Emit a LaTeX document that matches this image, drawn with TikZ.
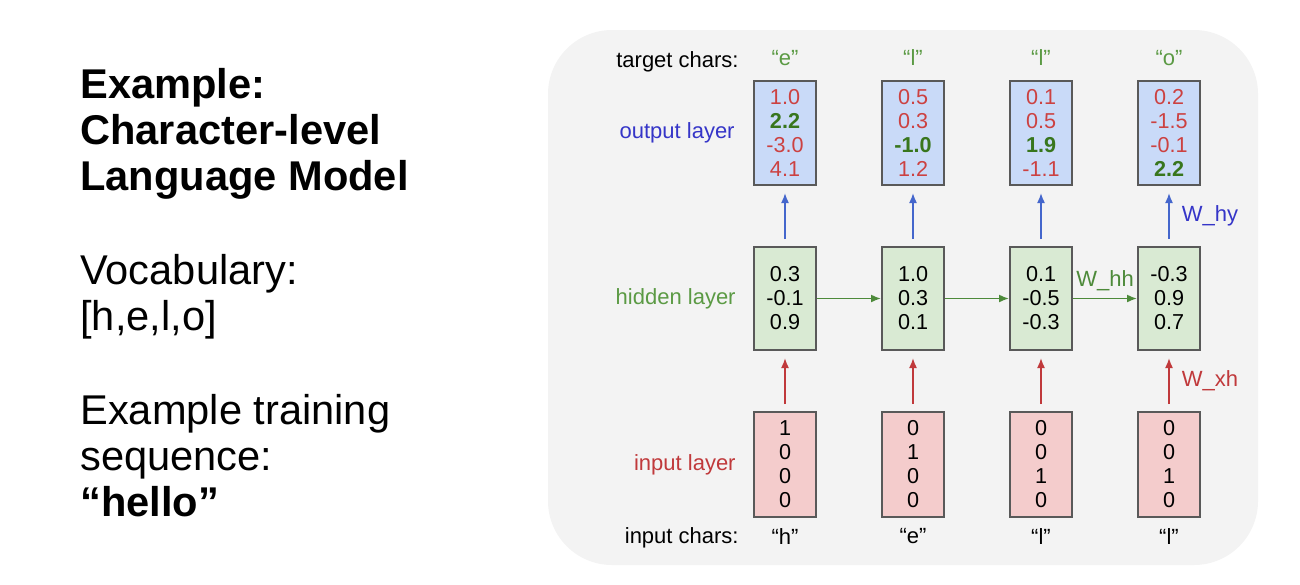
\documentclass[tikz,border=0pt]{standalone}
\usepackage{fontspec}
\setmainfont{Liberation Sans}
\usetikzlibrary{arrows.meta,positioning}

\definecolor{panelgray}{HTML}{F3F3F3}
\definecolor{boxline}{HTML}{595959}
\definecolor{outblue}{HTML}{C9DAF8}
\definecolor{hidgreen}{HTML}{D9EAD3}
\definecolor{inred}{HTML}{F4CCCC}
\definecolor{numred}{HTML}{CC4141}
\definecolor{numgreen}{HTML}{38761D}
\definecolor{chargreen}{HTML}{5B9A44}
\definecolor{lblblue}{HTML}{3535C8}
\definecolor{arrblue}{HTML}{4466CC}
\definecolor{arrred}{HTML}{C0393B}
\definecolor{arrgreen}{HTML}{4D8A3A}

\newcommand{\redval}[1]{\textcolor{numred}{#1}}
\newcommand{\greenval}[1]{\textcolor{numgreen}{\textbf{#1}}}

\tikzset{
  cell/.style={draw=boxline, line width=1pt, minimum width=31pt, inner sep=0pt,
    align=center, font=\fontsize{10.8}{12}\selectfont},
  outcell/.style={cell, fill=outblue, minimum height=52pt},
  hidcell/.style={cell, fill=hidgreen, minimum height=51.5pt},
  incell/.style={cell, fill=inred, minimum height=52.5pt},
  lbl/.style={font=\fontsize{11}{13}\selectfont, inner sep=0pt},
  bigtext/.style={font=\fontsize{20.8}{23}\selectfont, inner sep=0pt, align=left, anchor=base west},
  vert/.style={-{Latex[length=5pt,width=4pt]}, line width=0.8pt, shorten <=3.5pt, shorten >=3.5pt},
  horiz/.style={-{Latex[length=5pt,width=4pt]}, line width=0.8pt, draw=arrgreen},
}

\begin{document}
\begin{tikzpicture}[x=0.5pt,y=-0.5pt]
\useasboundingbox (0,0) rectangle (1300,584);

% left side text (anchored at the last line)
\node (T-1) at (80,190) [bigtext]{\textbf{Example:}\\\textbf{Character-level}\\\textbf{Language Model}};
\node (T-2) at (80,330) [bigtext]{Vocabulary:\\{}[h,e,l,o]};
\node (T-3) at (80,516) [bigtext]{Example training\\sequence:\\\textbf{“hello”}};

% gray panel
\fill [panelgray, rounded corners=32pt] (548,30) rectangle (1258,565);

% output layer
\node (O-1) at (785,133) [outcell]{\redval{1.0}\\\greenval{2.2}\\\redval{-3.0}\\\redval{4.1}};
\node (O-2) at (913,133) [outcell]{\redval{0.5}\\\redval{0.3}\\\greenval{-1.0}\\\redval{1.2}};
\node (O-3) at (1041,133) [outcell]{\redval{0.1}\\\redval{0.5}\\\greenval{1.9}\\\redval{-1.1}};
\node (O-4) at (1169,133) [outcell]{\redval{0.2}\\\redval{-1.5}\\\redval{-0.1}\\\greenval{2.2}};

% hidden layer
\node (H-1) at (785,298.5) [hidcell]{0.3\\-0.1\\0.9};
\node (H-2) at (913,298.5) [hidcell]{1.0\\0.3\\0.1};
\node (H-3) at (1041,298.5) [hidcell]{0.1\\-0.5\\-0.3};
\node (H-4) at (1169,298.5) [hidcell]{-0.3\\0.9\\0.7};

% input layer
\node (I-1) at (785,464.5) [incell]{1\\0\\0\\0};
\node (I-2) at (913,464.5) [incell]{0\\1\\0\\0};
\node (I-3) at (1041,464.5) [incell]{0\\0\\1\\0};
\node (I-4) at (1169,464.5) [incell]{0\\0\\1\\0};

% row labels
\node [lbl, text=lblblue, anchor=east, left=9pt of O-1]{output layer};
\node [lbl, text=chargreen, anchor=east, left=8.5pt of H-1]{hidden layer};
\node [lbl, text=arrred, anchor=east, left=8.5pt of I-1]{input layer};

\node at (739,67) [lbl, anchor=base east]{target chars:};
\node [lbl, text=chargreen, above=7pt of O-1]{“e”};
\node [lbl, text=chargreen, above=7pt of O-2]{“l”};
\node [lbl, text=chargreen, above=7pt of O-3]{“l”};
\node [lbl, text=chargreen, above=7pt of O-4]{“o”};

\node at (739,543) [lbl, anchor=base east]{input chars:};
\node [lbl, below=5pt of I-1]{“h”};
\node [lbl, below=5pt of I-2]{“e”};
\node [lbl, below=5pt of I-3]{“l”};
\node [lbl, below=5pt of I-4]{“l”};

% hidden to output
\draw [vert, arrblue] (H-1) -- (O-1);
\draw [vert, arrblue] (H-2) -- (O-2);
\draw [vert, arrblue] (H-3) -- (O-3);
\draw [vert, arrblue] (H-4) -- node[lbl, midway, right=6pt, text=lblblue]{W\_hy}(O-4);

% input to hidden
\draw [vert, arrred] (I-1) -- (H-1);
\draw [vert, arrred] (I-2) -- (H-2);
\draw [vert, arrred] (I-3) -- (H-3);
\draw [vert, arrred] (I-4) -- node[lbl, midway, right=6pt, text=arrred]{W\_xh}(H-4);

% hidden to hidden
\draw [horiz] (H-1) -- (H-2);
\draw [horiz] (H-2) -- (H-3);
\draw [horiz] (H-3) -- node[lbl, midway, above=3.5pt, text=arrgreen]{W\_hh}(H-4);

\end{tikzpicture}
\end{document}
